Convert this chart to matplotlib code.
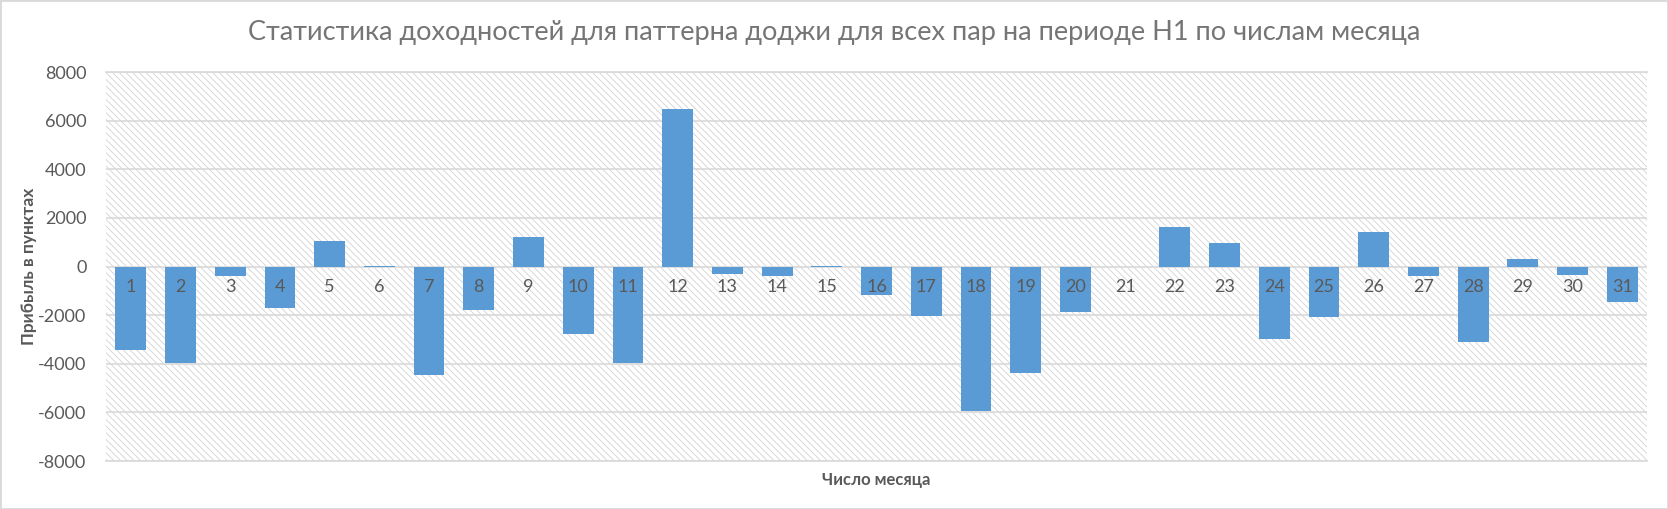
import matplotlib.pyplot as plt
from matplotlib.patches import Rectangle

plt.rcParams['font.family'] = ['Lato', 'DejaVu Sans']
plt.rcParams['hatch.linewidth'] = 0.6

days = list(range(1, 32))
profit = [-3430, -3980, -380, -1710, 1040, 40, -4460, -1800, 1200, -2770,
          -3970, 6470, -300, -385, 40, -1170, -2030, -5940, -4380, -1860,
          0, 1630, 970, -3000, -2090, 1420, -370, -3120, 310, -340, -1480]
yticks = list(range(-8000, 8001, 2000))

title = "Статистика доходностей для паттерна доджи для всех пар на периоде H1 по числам месяца"
xlabel = "Число месяца"
ylabel = "Прибыль в пунктах"

text_col = "#595959"
title_col = "#757575"
bar_col = "#5B9BD5"
grid_col = "#d9d9d9"

fig = plt.figure(figsize=(16.68, 5.09), dpi=100)
ax = fig.add_axes([0.0635, 0.0943, 0.924, 0.7642])

# hatched plot background
bg = Rectangle((0, 0), 1, 1, transform=ax.transAxes, facecolor="white",
               edgecolor="#d2d2d2", hatch="\\\\\\\\\\", linewidth=0, zorder=0)
ax.add_patch(bg)
ax.set_facecolor("white")

ax.bar(days, profit, width=0.62, color=bar_col, zorder=3)

ax.set_xlim(0.5, 31.5)
ax.set_ylim(-8000, 8000)
ax.set_yticks(yticks)
ax.set_yticklabels([str(t) for t in yticks], fontsize=13, color=text_col)
ax.set_xticks([])
ax.yaxis.grid(True, color=grid_col, linewidth=1.2, zorder=1)
ax.set_axisbelow(True)
ax.tick_params(axis="y", length=0, pad=14)
for s in ax.spines.values():
    s.set_color(grid_col)
    s.set_linewidth(1.2)
ax.spines["left"].set_visible(False)
ax.spines["right"].set_visible(False)

# category labels just below zero line
for d in days:
    ax.text(d, -850, str(d), ha="center", va="center", fontsize=13,
            color=text_col, zorder=4)

ax.set_xlabel(xlabel, fontsize=12, fontweight="bold", color=text_col, labelpad=8)
ax.set_ylabel(ylabel, fontsize=12.5, fontweight="bold", color=text_col)
ax.yaxis.set_label_coords(-0.045, 0.5)

fig.text(0.5, 0.937, title, ha="center", va="center", fontsize=19.5, color=title_col)

fig.patches.append(Rectangle((0, 0), 1, 1, transform=fig.transFigure,
                             fill=False, edgecolor="#d9d9d9", linewidth=2))

fig.savefig("out.png", dpi=100)
